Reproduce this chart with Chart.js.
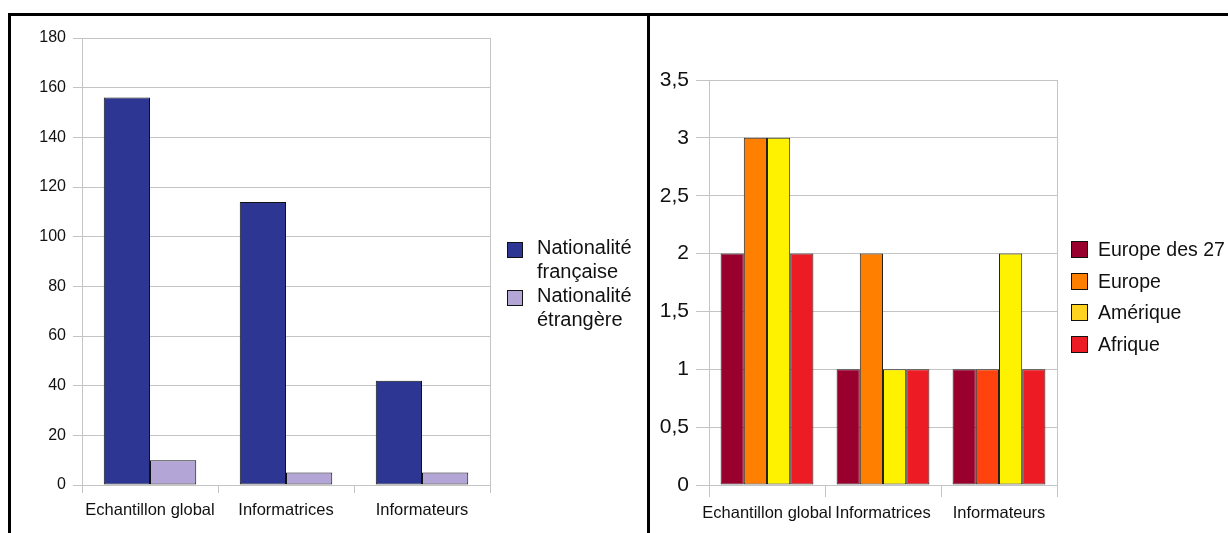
<!DOCTYPE html>
<html>
<head>
<meta charset="utf-8">
<script src="https://cdn.jsdelivr.net/npm/chart.js@4/dist/chart.umd.min.js"></script>
<style>
  html,body{margin:0;padding:0;background:#fff;width:1228px;height:533px;overflow:hidden;font-family:"Liberation Sans",Arial,sans-serif;}
  .cv{position:absolute;top:0;}
  .line{position:absolute;background:#000;z-index:5;}
  .leg{position:absolute;z-index:6;color:#111;}
  .leg .box{position:absolute;border:1px solid #111;box-sizing:border-box;}
  .leg .txt{position:absolute;white-space:nowrap;}
</style>
</head>
<body>
<div class="cv" style="left:0;width:647px;height:533px;"><canvas id="c1"></canvas></div>
<div class="cv" style="left:650px;width:578px;height:533px;"><canvas id="c2"></canvas></div>
<div class="line" style="left:8px;top:13px;width:1220px;height:3px;"></div>
<div class="line" style="left:8px;top:13px;width:3px;height:520px;"></div>
<div class="line" style="left:647px;top:13px;width:3px;height:520px;"></div>
<div id="leg1"></div>
<div id="leg2"></div>
<script>
// ---- data ----
const categories = ["Echantillon global", "Informatrices", "Informateurs"];
const leftSeriesNames = ["Nationalité française", "Nationalité étrangère"];
const leftLegendLines = [["Nationalité", "française"], ["Nationalité", "étrangère"]];
const nationaliteFrancaise = [156, 114, 42];
const nationaliteEtrangere = [10, 5, 5];
const leftTicks = [0, 20, 40, 60, 80, 100, 120, 140, 160, 180];

const rightSeriesNames = ["Europe des 27", "Europe", "Amérique", "Afrique"];
const europe27 = [2, 1, 1];
const europe = [3, 2, 1];
const amerique = [3, 1, 2];
const afrique = [2, 1, 1];
const rightTicks = ["0", "0,5", "1", "1,5", "2", "2,5", "3", "3,5"];

// ---- styles ----
const leftColors = ["#2e3694", "#b3a6d6"];
const rightBarColors = [
  ["#99002e", "#99002e", "#99002e"],
  ["#ff8000", "#ff8000", "#ff420e"],
  ["#fff200", "#fff200", "#fff200"],
  ["#ed1c24", "#ed1c24", "#ed1c24"]
];
const rightLegendColors = ["#99002e", "#ff8000", "#ffd320", "#ed1c24"];
const gridColor = "#c4c4c4";
const font = "'Liberation Sans', Arial, sans-serif";

const frame = {
  id: "frame",
  afterDraw(chart) {
    const a = chart.chartArea, ctx = chart.ctx;
    ctx.save();
    ctx.strokeStyle = gridColor;
    ctx.lineWidth = 1;
    ctx.beginPath();
    ctx.moveTo(Math.round(a.right) + 0.5, a.top);
    ctx.lineTo(Math.round(a.right) + 0.5, a.bottom);
    ctx.stroke();
    ctx.restore();
  }
};

function yFit(w) { return s => { s.width = w; }; }
function xFit(h) { return s => { s.height = h; }; }

Chart.defaults.animation = false;
Chart.defaults.font.family = font;
Chart.defaults.color = "#111";

new Chart(document.getElementById("c1"), {
  type: "bar",
  data: {
    labels: categories,
    datasets: [
      { label: leftSeriesNames[0], data: nationaliteFrancaise, backgroundColor: leftColors[0], borderColor: "#111", borderWidth: 1, borderSkipped: false },
      { label: leftSeriesNames[1], data: nationaliteEtrangere, backgroundColor: leftColors[1], borderColor: "#111", borderWidth: 1, borderSkipped: false }
    ]
  },
  options: {
    responsive: true, maintainAspectRatio: false,
    layout: { padding: { left: 20, top: 38, right: 157, bottom: 4 } },
    plugins: { legend: { display: false }, tooltip: { enabled: false } },
    datasets: { bar: { categoryPercentage: 0.68, barPercentage: 1.0 } },
    scales: {
      x: {
        afterFit: xFit(44),
        grid: { drawOnChartArea: false, color: gridColor, tickLength: 8, offset: true },
        border: { color: gridColor },
        ticks: { font: { size: 16.5 }, padding: 8, color: "#111", autoSkip: false, maxRotation: 0, minRotation: 0 }
      },
      y: {
        min: 0, max: 180,
        afterFit: yFit(62),
        afterBuildTicks: s => { s.ticks = leftTicks.map(v => ({ value: v })); },
        grid: { color: gridColor, tickLength: 9 },
        border: { color: gridColor },
        ticks: { font: { size: 16 }, padding: 7, color: "#111" }
      }
    }
  },
  plugins: [frame]
});

new Chart(document.getElementById("c2"), {
  type: "bar",
  data: {
    labels: categories,
    datasets: [europe27, europe, amerique, afrique].map((d, i) => ({
      label: rightSeriesNames[i], data: d, backgroundColor: rightBarColors[i], borderColor: "#222", borderWidth: 1, borderSkipped: false
    }))
  },
  options: {
    responsive: true, maintainAspectRatio: false,
    layout: { padding: { left: 5, top: 80, right: 171, bottom: 4 } },
    plugins: { legend: { display: false }, tooltip: { enabled: false } },
    datasets: { bar: { categoryPercentage: 0.80, barPercentage: 1.0 } },
    scales: {
      x: {
        afterFit: xFit(44),
        grid: { drawOnChartArea: false, color: gridColor, tickLength: 12, offset: true },
        border: { color: gridColor },
        ticks: { font: { size: 16.5 }, padding: 7, color: "#111", autoSkip: false, maxRotation: 0, minRotation: 0 }
      },
      y: {
        min: 0, max: 3.5,
        afterFit: yFit(54),
        afterBuildTicks: s => { s.ticks = rightTicks.map((t, i) => ({ value: i * 0.5 })); },
        grid: { color: gridColor, tickLength: 13 },
        border: { color: gridColor },
        ticks: { font: { size: 21 }, padding: 7, color: "#111",
          callback: (v, i) => rightTicks[i] }
      }
    }
  },
  plugins: [frame]
});

// HTML legends
const leg1 = document.getElementById("leg1");
leftLegendLines.forEach((lines, i) => {
  const top = 239 + i * 48;
  const d = document.createElement("div");
  d.className = "leg";
  d.style.left = "507px"; d.style.top = top + "px";
  d.innerHTML = `<div class="box" style="left:0;top:3px;width:16px;height:16px;background:${leftColors[i]}"></div>` +
    `<div class="txt" style="left:30px;top:-4px;font-size:20px;line-height:24px;">${lines.join("<br>")}</div>`;
  leg1.appendChild(d);
});
const leg2 = document.getElementById("leg2");
rightSeriesNames.forEach((name, i) => {
  const top = 241 + i * 31.5;
  const d = document.createElement("div");
  d.className = "leg";
  d.style.left = "1071px"; d.style.top = top + "px";
  d.innerHTML = `<div class="box" style="left:0;top:0;width:17px;height:17px;background:${rightLegendColors[i]}"></div>` +
    `<div class="txt" style="left:27px;top:-3px;font-size:19.5px;line-height:22px;">${name}</div>`;
  leg2.appendChild(d);
});
</script>
</body>
</html>
